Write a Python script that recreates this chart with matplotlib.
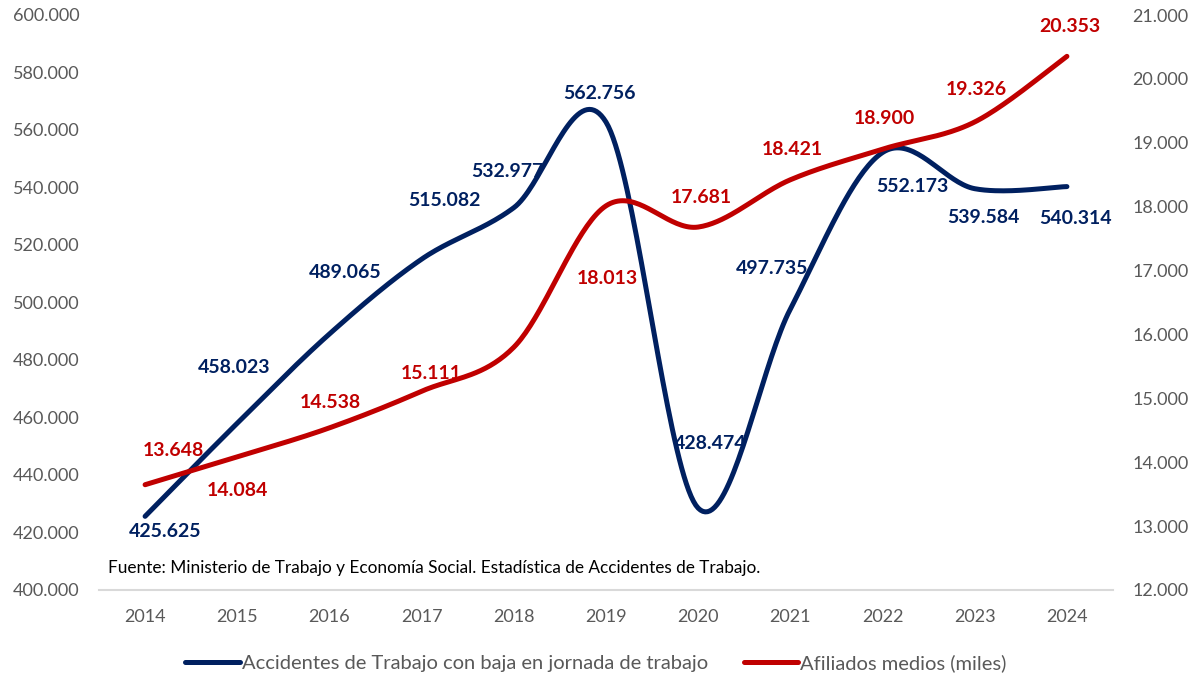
import numpy as np
import matplotlib.pyplot as plt
from matplotlib.lines import Line2D
from matplotlib.ticker import FuncFormatter

plt.rcParams['font.family'] = ['Lato', 'DejaVu Sans']

years = [2014, 2015, 2016, 2017, 2018, 2019, 2020, 2021, 2022, 2023, 2024]
accidentes = [425625, 458023, 489065, 515082, 532977, 562756, 428474, 497735, 552173, 539584, 540314]
afiliados = [13648, 14084, 14538, 15111, 15800, 18013, 17681, 18421, 18900, 19326, 20353]

# label offsets in pixels (dx, dy), None = no label
acc_off = [(20, -15), (-3, 56), (16, 61), (23, 59), (-6, 36), (-7, 29),
           (12, 65), (-18, 41), (30, -34), (9, -29), (9, -32)]
afi_off = [(28, 34), (0, -34), (1, 25), (10, 18), None, (1, -73),
           (3, 30), (2, 30), (2, 31), (2, 32), (3, 30)]

BLUE = '#002060'
RED = '#C00000'
GREY = '#595959'


def smooth(x, y, n=40):
    # excel-like bezier smoothing (catmull-rom control points)
    x = np.asarray(x, float)
    y = np.asarray(y, float)
    P = np.column_stack([x, y])
    out = []
    for i in range(len(P) - 1):
        p0 = P[i - 1] if i > 0 else P[i]
        p1 = P[i]
        p2 = P[i + 1]
        p3 = P[i + 2] if i + 2 < len(P) else P[i + 1]
        c1 = p1 + (p2 - p0) / 6
        c2 = p2 - (p3 - p1) / 6
        t = np.linspace(0, 1, n)[:, None]
        seg = (1 - t) ** 3 * p1 + 3 * (1 - t) ** 2 * t * c1 + 3 * (1 - t) * t ** 2 * c2 + t ** 3 * p2
        out.append(seg if i == 0 else seg[1:])
    s = np.vstack(out)
    return s[:, 0], s[:, 1]


def fmt(v):
    return '{:,.0f}'.format(v).replace(',', '.')


fig = plt.figure(figsize=(12.03, 6.78), dpi=100)
W, H = 1203, 678
ax = fig.add_axes([99 / W, 1 - 590 / H, (1113 - 99) / W, (590 - 15) / H])
ax2 = ax.twinx()

xs = np.arange(len(years))
sx, sy = smooth(xs, accidentes)
ax.plot(sx, sy, color=BLUE, lw=3.6, solid_capstyle='round')
sx, sy = smooth(xs, afiliados)
ax2.plot(sx, sy, color=RED, lw=3.6, solid_capstyle='round')

ax.set_xlim(-0.5, len(years) - 0.5)
ax.set_ylim(400000, 600000)
ax2.set_ylim(12000, 21000)
ax.set_yticks(np.arange(400000, 600001, 20000))
ax2.set_yticks(np.arange(12000, 21001, 1000))
ax.yaxis.set_major_formatter(FuncFormatter(lambda v, p: fmt(v)))
ax2.yaxis.set_major_formatter(FuncFormatter(lambda v, p: fmt(v)))
ax.set_xticks(xs)
ax.set_xticklabels([str(y) for y in years])

for a in (ax, ax2):
    for s in a.spines.values():
        s.set_visible(False)
    a.tick_params(length=0, labelsize=13, colors=GREY)
ax.spines['bottom'].set_visible(True)
ax.spines['bottom'].set_color('#D9D9D9')
ax.spines['bottom'].set_linewidth(1.5)
ax.tick_params(axis='y', pad=14)
ax2.tick_params(axis='y', pad=14)
ax.tick_params(axis='x', pad=14)

for i, v in enumerate(accidentes):
    dx, dy = acc_off[i]
    ax.annotate(fmt(v), (xs[i], v), xytext=(dx, dy), textcoords='offset pixels',
                ha='center', va='center', color=BLUE, fontsize=14, fontweight='bold')
for i, v in enumerate(afiliados):
    if afi_off[i] is None:
        continue
    dx, dy = afi_off[i]
    ax2.annotate(fmt(v), (xs[i], v), xytext=(dx, dy), textcoords='offset pixels',
                 ha='center', va='center', color=RED, fontsize=14, fontweight='bold')

fig.text(108 / W, 1 - 568 / H,
         'Fuente: Ministerio de Trabajo y Economía Social. Estadística de Accidentes de Trabajo.',
         ha='left', va='center', fontsize=12.4, color='black')

handles = [Line2D([], [], color=BLUE, lw=3.6, solid_capstyle='round'),
           Line2D([], [], color=RED, lw=3.6, solid_capstyle='round')]
fig.legend(handles, ['Accidentes de Trabajo con baja en jornada de trabajo', 'Afiliados medios (miles)'],
           loc='center', bbox_to_anchor=(596 / W, 1 - 663 / H), ncol=2, frameon=False,
           fontsize=14.5, handlelength=2.7, handletextpad=0.1, columnspacing=1.8,
           labelcolor=GREY)

fig.savefig('out.png', dpi=100)
